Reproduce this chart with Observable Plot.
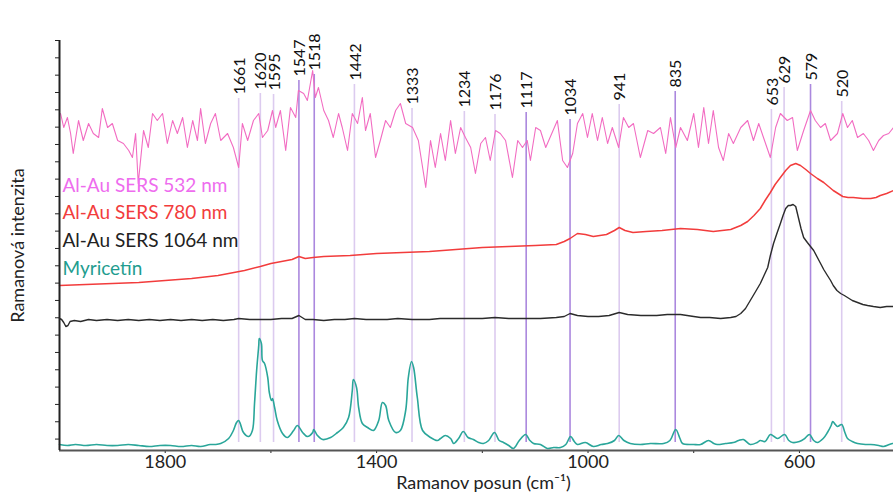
<!DOCTYPE html>
<html>
<head>
<meta charset="utf-8">
<script src="https://cdn.jsdelivr.net/npm/d3@7"></script>
<script src="https://cdn.jsdelivr.net/npm/@observablehq/plot@0.6"></script>
<style>
  html, body { margin: 0; padding: 0; background: #fff; }
  #chart svg { display: block; }
</style>
</head>
<body>
<div id="chart"></div>
<script>
// ---- data: [Raman shift (cm-1), intensity (a.u., offset stacked)] ----
const seriesNames = ["Al-Au SERS 532 nm", "Al-Au SERS 780 nm", "Al-Au SERS 1064 nm", "Myricetín"];

const myricetin = [[2000,6],[1985,5],[1970,6],[1950,5],[1930,6],[1910,5],[1890,5],[1870,6],[1850,5],[1830,4],[1810,5],[1790,5],[1770,4],[1750,5],[1733,4],[1715,6],[1705,6],[1695,7],[1680,12],[1671,20],[1665,28],[1661,30],[1658,27],[1652,18],[1642,14],[1635,20],[1631,47],[1627,80],[1623,105],[1622,112],[1618,107],[1616,90],[1612,87],[1606,73],[1603,58],[1599,50],[1597,52],[1593,43],[1588,30],[1578,17],[1569,13],[1557,20],[1550,25],[1540,18],[1531,14],[1521,18],[1519,21],[1512,15],[1502,11],[1487,13],[1474,18],[1463,23],[1453,33],[1446,60],[1444,71],[1438,63],[1434,43],[1427,27],[1417,23],[1406,20],[1396,30],[1389,48],[1383,45],[1377,30],[1364,18],[1355,20],[1345,40],[1340,73],[1334,89],[1330,83],[1323,53],[1313,20],[1298,13],[1285,10],[1279,12],[1270,15],[1260,12],[1254,7],[1245,12],[1236,19],[1227,13],[1217,11],[1207,8],[1198,7],[1188,10],[1177,18],[1168,10],[1160,8],[1150,5],[1141,2],[1130,10],[1118,16],[1110,10],[1103,7],[1090,6],[1077,2],[1065,3],[1052,3],[1042,6],[1033,14],[1026,9],[1020,6],[1005,8],[990,4],[975,6],[963,7],[950,10],[942,15],[932,10],[920,7],[901,6],[882,7],[857,7],[845,10],[834,21],[826,12],[821,7],[800,6],[787,6],[772,10],[762,7],[755,6],[740,7],[725,8],[715,10],[706,11],[693,6],[680,8],[674,10],[665,9],[655,16],[648,14],[641,12],[628,16],[620,10],[613,8],[600,9],[590,12],[581,16],[573,10],[566,8],[555,12],[547,18],[540,25],[537,29],[532,26],[528,24],[520,26],[514,18],[509,12],[500,9],[490,7],[475,6],[465,6],[450,5],[441,4],[430,6],[424,7]];

const sers1064 = [[2000,132],[1996,131],[1992,128],[1988,124],[1984,125],[1980,129],[1972,130],[1960,129],[1945,131],[1930,130],[1910,131],[1890,130],[1870,131],[1850,130],[1830,131],[1810,130],[1790,131],[1770,130],[1750,131],[1730,130],[1710,131],[1690,130],[1670,131],[1661,132],[1640,131],[1620,131],[1600,131],[1580,132],[1560,132],[1547,135],[1535,131],[1520,131],[1500,130],[1480,131],[1460,131],[1442,132],[1420,131],[1400,131],[1380,131],[1360,132],[1333,131],[1300,131],[1280,132],[1250,132],[1234,132],[1200,132],[1176,133],[1150,132],[1117,132],[1090,132],[1060,133],[1045,134],[1034,137],[1020,135],[1000,134],[980,134],[960,135],[941,138],[925,136],[900,135],[870,135],[850,136],[825,136],[800,134],[787,133],[770,133],[749,132],[730,133],[720,134],[711,137],[702,142],[693,150],[684,158],[674,167],[667,175],[660,183],[655,195],[649,207],[642,218],[636,227],[631,235],[626,242],[621,245],[617,245],[612,246],[607,244],[602,233],[597,222],[592,213],[585,208],[579,204],[573,200],[566,193],[560,187],[554,181],[547,175],[541,170],[536,165],[529,160],[522,157],[515,155],[509,153],[500,150],[490,148],[480,146],[471,145],[460,144],[447,143],[435,144],[422,144]];

const sers780 = [[2000,165],[1950,166],[1900,167],[1850,168],[1800,170],[1750,172],[1700,175],[1680,177],[1650,180],[1620,184],[1600,187],[1580,189],[1560,191],[1547,194],[1535,192],[1520,193],[1500,194],[1450,195],[1400,197],[1350,198],[1300,199],[1250,201],[1200,203],[1150,204],[1100,205],[1060,206],[1045,209],[1034,212],[1020,217],[1005,216],[990,214],[965,216],[950,220],[941,223],[930,220],[915,218],[890,219],[860,220],[825,222],[793,221],[763,219],[730,221],[711,225],[698,229],[686,235],[674,242],[665,250],[655,258],[646,266],[636,273],[626,280],[617,285],[607,287],[598,285],[588,281],[579,277],[566,272],[554,268],[545,264],[536,260],[527,257],[518,254],[508,253],[498,253],[480,252],[465,252],[455,253],[447,255],[435,257],[422,260]];

const sers532 = [[1998,337],[1992,323],[1985,333],[1979,317],[1974,297],[1964,330],[1955,310],[1945,327],[1936,317],[1926,313],[1919,342],[1909,323],[1900,327],[1890,310],[1879,307],[1869,300],[1862,293],[1856,317],[1851,267],[1841,320],[1832,303],[1824,337],[1815,330],[1805,337],[1796,307],[1786,330],[1777,317],[1767,333],[1758,303],[1748,330],[1739,310],[1733,342],[1724,307],[1714,327],[1705,337],[1695,310],[1682,317],[1671,303],[1661,283],[1654,327],[1644,310],[1633,330],[1623,337],[1616,313],[1606,320],[1597,340],[1591,323],[1582,340],[1572,300],[1563,343],[1553,333],[1548,360],[1538,357],[1531,350],[1521,380],[1516,353],[1510,363],[1500,340],[1491,330],[1482,313],[1472,337],[1465,323],[1455,300],[1446,337],[1436,327],[1427,353],[1421,320],[1412,337],[1402,293],[1393,310],[1383,330],[1374,323],[1364,340],[1355,347],[1345,327],[1332,323],[1321,310],[1307,263],[1298,310],[1289,283],[1279,317],[1270,290],[1260,330],[1251,297],[1241,323],[1232,313],[1222,303],[1213,277],[1203,307],[1194,313],[1185,290],[1175,320],[1166,317],[1156,310],[1143,273],[1133,310],[1124,303],[1115,310],[1109,290],[1099,323],[1090,320],[1080,303],[1058,330],[1048,290],[1039,283],[1029,297],[1020,327],[1010,337],[1001,313],[992,337],[982,310],[973,333],[963,307],[954,323],[942,303],[933,333],[923,323],[914,327],[901,293],[887,320],[876,317],[863,323],[853,297],[844,333],[834,303],[825,323],[812,310],[800,337],[791,303],[781,343],[772,307],[763,340],[753,303],[744,290],[734,317],[725,307],[711,323],[698,330],[687,310],[677,327],[668,313],[655,293],[645,323],[636,337],[623,330],[613,333],[604,300],[592,320],[579,340],[570,330],[560,323],[551,327],[541,310],[528,317],[518,337],[509,323],[500,330],[490,313],[479,317],[469,310],[460,300],[450,310],[441,315],[431,317],[422,323]];

// marked bands (cm-1) and the intensity level at which each label starts
const peakShifts = [1661,1620,1595,1547,1518,1442,1333,1234,1176,1117,1034,941,835,653,629,579,520];
const peakLabelLevel = [356,361,360,374,380,370,346,343,340,342,335,350,363,345,367,370,353];

const majorTicks = [1800,1400,1000,600];
const minorTicks = [1600,1200,800];

// ---- build tables ----
const toRows = (pairs, s) => pairs.map(([x, y]) => ({shift: x, intensity: y, series: s}));
const rows532 = toRows(sers532, seriesNames[0]);
const rows780 = toRows(sers780, seriesNames[1]);
const rows1064 = toRows(sers1064, seriesNames[2]);
const rowsMyr = toRows(myricetin, seriesNames[3]);
const peaks = peakShifts.map((p, i) => ({shift: p, level: peakLabelLevel[i]}));
const darkPeaks = new Set([1547,1518,1117,1034,835,579]);

const lineColors = ["#f26cc2", "#f23c3c", "#2b2b2b", "#2aa69a"];
const legendColors = ["#ee6cee", "#f23c3c", "#222222", "#1f9d8f"];
const font = "Lato, 'Open Sans', sans-serif";

const yTicks = d3.range(410, 0, -17.33);

const chart = Plot.plot({
  width: 893,
  height: 495,
  marginLeft: 59,
  marginRight: 0,
  marginTop: 40,
  marginBottom: 45,
  style: {fontFamily: font, fontSize: "18px", color: "#222", background: "#fff"},
  x: {domain: [2000, 422], ticks: [...majorTicks, ...minorTicks], tickFormat: d => majorTicks.includes(d) ? String(d) : "", tickSize: 3, tickPadding: 2, label: null},
  y: {domain: [0, 410], ticks: yTicks, tickFormat: () => "", tickSize: 4, label: null},
  marks: [
    Plot.ruleX(peaks, {x: "shift", y1: 8, y2: d => d.level - 4, stroke: d => darkPeaks.has(d.shift) ? "#ab88de" : "#dccbef", strokeWidth: 1.6}),
    Plot.line(rows780, {x: "shift", y: "intensity", stroke: lineColors[1], strokeWidth: 1.5}),
    Plot.line(rows1064, {x: "shift", y: "intensity", stroke: lineColors[2], strokeWidth: 1.4}),
    Plot.line(rowsMyr, {x: "shift", y: "intensity", stroke: lineColors[3], strokeWidth: 1.6, curve: "catmull-rom"}),
    Plot.line(rows532, {x: "shift", y: "intensity", stroke: lineColors[0], strokeWidth: 1.1}),
    Plot.text(peaks, {x: "shift", y: "level", text: d => String(d.shift), rotate: -90, textAnchor: "start", lineAnchor: "middle", dx: 1, fontSize: 16, fill: "#111"}),
    Plot.ruleY([0], {stroke: "#555", strokeWidth: 2}),
    Plot.ruleX([2000], {stroke: "#222", strokeWidth: 2}),
    ...seriesNames.map((name, i) => Plot.text([name], {text: d => d, frameAnchor: "top-left", lineAnchor: "middle", dx: 3, dy: 145 + i * 27.7, textAnchor: "start", fill: legendColors[i], fontSize: 19})),
    Plot.text(["Ramanov posun (cm\u207B\u00B9)"], {text: d => d, frameAnchor: "bottom", lineAnchor: "middle", textAnchor: "middle", dy: 33, dx: 7, fontSize: 18, fill: "#222"}),
    Plot.text(["Ramanová intenzita"], {text: d => d, frameAnchor: "left", lineAnchor: "middle", textAnchor: "middle", rotate: -90, dx: -41, fontSize: 18, fill: "#222"})
  ]
});
document.getElementById("chart").appendChild(chart);
</script>
</body>
</html>
